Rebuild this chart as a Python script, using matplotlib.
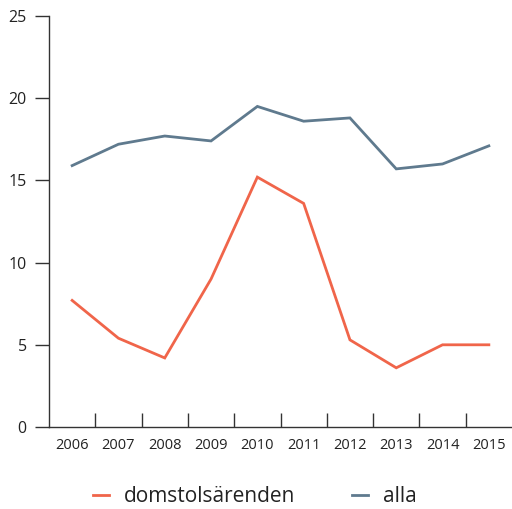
import matplotlib
matplotlib.use("Agg")
import matplotlib.pyplot as plt
import numpy as np

years = ["2006", "2007", "2008", "2009", "2010", "2011", "2012", "2013", "2014", "2015"]
domstol = [7.7, 5.4, 4.2, 9.0, 15.2, 13.6, 5.3, 3.6, 5.0, 5.0]
alla = [15.9, 17.2, 17.7, 17.4, 19.5, 18.6, 18.8, 15.7, 16.0, 17.1]
yticks = [0, 5, 10, 15, 20, 25]

plt.rcParams['font.family'] = ['Open Sans', 'DejaVu Sans']
fig = plt.figure(figsize=(5.12, 5.09), dpi=100)
ax = fig.add_axes([49/512, 1-427/509, 463/512, 411/509])

x = np.arange(len(years)) + 0.5
c1 = "#f0654a"
c2 = "#5f7a8e"
ax.plot(x, domstol, color=c1, lw=2, label="domstolsärenden", solid_joinstyle='miter')
ax.plot(x, alla, color=c2, lw=2, label="alla", solid_joinstyle='miter')

ax.set_xlim(0, len(years))
ax.set_ylim(0, 25)
for s in ["top", "right"]:
    ax.spines[s].set_visible(False)
for s in ["left", "bottom"]:
    ax.spines[s].set_color("#333333")
    ax.spines[s].set_linewidth(1.0)

ax.set_yticks(yticks)
ax.tick_params(axis='y', direction='out', length=10, width=1, color="#333333",
               labelsize=11.5, labelcolor="#222222", pad=6)
ax.set_xticks(np.arange(1, len(years)))
ax.set_xticklabels([])
ax.tick_params(axis='x', which='major', direction='in', length=10, width=1, color="#333333")
ax.set_xticks(x, minor=True)
ax.set_xticklabels(years, minor=True)
ax.tick_params(axis='x', which='minor', length=0, labelsize=10.5, labelcolor="#222222", pad=8)

leg = fig.legend(loc='center', bbox_to_anchor=(255/512, 1-497/509), ncol=2, frameon=False,
                 fontsize=15, handlelength=0.75, handletextpad=0.75, columnspacing=2.7)
for t in leg.get_texts():
    t.set_color("#222222")

fig.savefig("out.png", dpi=100)
